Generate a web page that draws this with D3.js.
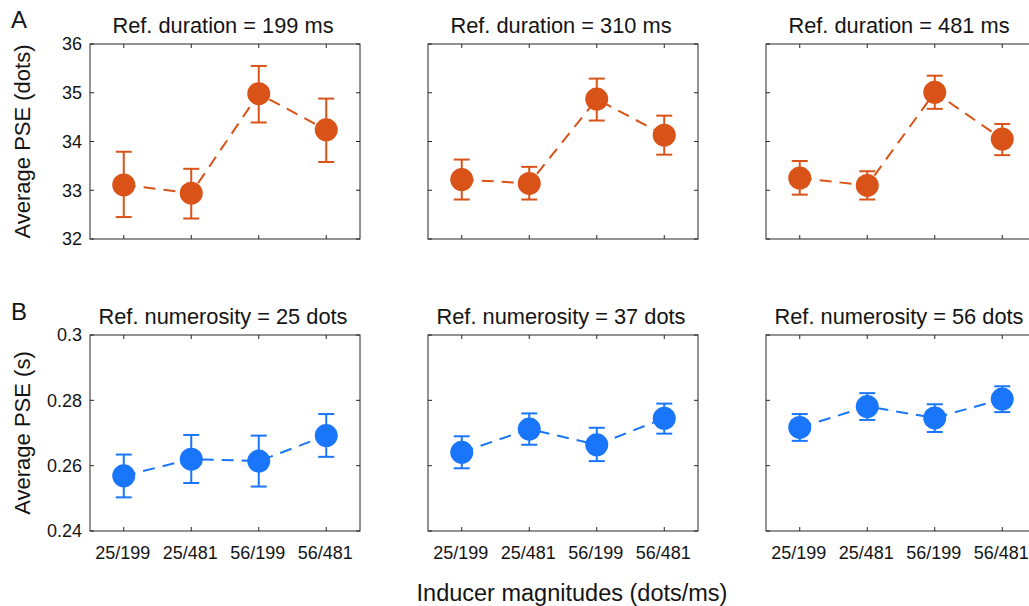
<!DOCTYPE html>
<html>
<head>
<meta charset="utf-8">
<script src="https://cdn.jsdelivr.net/npm/d3@7/dist/d3.min.js"></script>
<style>
  html, body { margin: 0; padding: 0; background: #fff; }
  svg { display: block; }
  text { font-family: "Liberation Sans", Arial, sans-serif; fill: #141414; }
</style>
</head>
<body>
<svg id="chart" width="1029" height="606"></svg>
<script>
// ---------- data ----------
const categories = ["25/199", "25/481", "56/199", "56/481"];

const durTitles = ["Ref. duration = 199 ms", "Ref. duration = 310 ms", "Ref. duration = 481 ms"];
const durMean = [
  [33.11, 32.94, 34.98, 34.24],
  [33.22, 33.14, 34.87, 34.13],
  [33.25, 33.10, 35.01, 34.05]
];
const durLow = [
  [32.45, 32.42, 34.39, 33.58],
  [32.81, 32.81, 34.43, 33.73],
  [32.91, 32.81, 34.67, 33.72]
];
const durHigh = [
  [33.79, 33.44, 35.55, 34.88],
  [33.63, 33.48, 35.29, 34.53],
  [33.60, 33.39, 35.35, 34.36]
];
const durTicks = [32, 33, 34, 35, 36];

const numTitles = ["Ref. numerosity = 25 dots", "Ref. numerosity = 37 dots", "Ref. numerosity = 56 dots"];
const numMean = [
  [0.2569, 0.2620, 0.2614, 0.2692],
  [0.2641, 0.2712, 0.2664, 0.2745],
  [0.2717, 0.2781, 0.2746, 0.2804]
];
const numLow = [
  [0.2503, 0.2547, 0.2536, 0.2627],
  [0.2592, 0.2664, 0.2614, 0.2698],
  [0.2676, 0.2740, 0.2703, 0.2764]
];
const numHigh = [
  [0.2634, 0.2694, 0.2692, 0.2758],
  [0.2690, 0.2760, 0.2716, 0.2790],
  [0.2758, 0.2822, 0.2788, 0.2843]
];
const numTicks = [0.24, 0.26, 0.28, 0.3];

const colorDur = "#D95319";
const colorNum = "#1976FA";

// ---------- layout ----------
const svg = d3.select("#chart");
const panelLefts = [90, 428, 766];
const panelW = 270;
const rows = [
  { top: 44, bottom: 239, domain: [32, 36], ticks: durTicks, fmt: d3.format("d"),
    titles: durTitles, mean: durMean, low: durLow, high: durHigh, color: colorDur,
    ylabel: "Average PSE (dots)", letter: "A", letterY: 28, titleY: 33, showX: false },
  { top: 335, bottom: 531, domain: [0.24, 0.3], ticks: numTicks, fmt: d => String(+d.toFixed(2)),
    titles: numTitles, mean: numMean, low: numLow, high: numHigh, color: colorNum,
    ylabel: "Average PSE (s)", letter: "B", letterY: 320, titleY: 324, showX: true }
];

const axisColor = "#262626";

rows.forEach(row => {
  const y = d3.scaleLinear().domain(row.domain).range([row.bottom, row.top]);
  panelLefts.forEach((left, pi) => {
    const x = d3.scaleLinear().domain([0.5, 4.5]).range([left, left + panelW]);
    const g = svg.append("g");

    // box
    g.append("rect")
      .attr("x", left).attr("y", row.top)
      .attr("width", panelW).attr("height", row.bottom - row.top)
      .attr("fill", "none").attr("stroke", axisColor).attr("stroke-width", 1);

    const tickLen = 4;
    // x ticks (bottom & top, inward)
    categories.forEach((c, i) => {
      const xx = x(i + 1);
      g.append("line").attr("x1", xx).attr("x2", xx).attr("y1", row.bottom).attr("y2", row.bottom - tickLen)
        .attr("stroke", axisColor);
      g.append("line").attr("x1", xx).attr("x2", xx).attr("y1", row.top).attr("y2", row.top + tickLen)
        .attr("stroke", axisColor);
      if (row.showX) {
        g.append("text").attr("x", xx - 1).attr("y", row.bottom + 28)
          .attr("text-anchor", "middle").attr("font-size", 18).text(c);
      }
    });
    // y ticks (left & right, inward)
    row.ticks.forEach(t => {
      const yy = y(t);
      g.append("line").attr("x1", left).attr("x2", left + tickLen).attr("y1", yy).attr("y2", yy)
        .attr("stroke", axisColor);
      g.append("line").attr("x1", left + panelW).attr("x2", left + panelW - tickLen).attr("y1", yy).attr("y2", yy)
        .attr("stroke", axisColor);
      if (pi === 0) {
        g.append("text").attr("x", left - 8).attr("y", yy).attr("dy", "0.36em")
          .attr("text-anchor", "end").attr("font-size", 18).text(row.fmt(t));
      }
    });

    // title
    g.append("text").attr("x", left + panelW / 2 - 2).attr("y", row.titleY)
      .attr("text-anchor", "middle").attr("font-size", 21.8).text(row.titles[pi]);

    // dashed connecting line
    const line = d3.line().x((d, i) => x(i + 1)).y(d => y(d));
    g.append("path").datum(row.mean[pi])
      .attr("d", line).attr("fill", "none")
      .attr("stroke", row.color).attr("stroke-width", 2)
      .attr("stroke-dasharray", "12,8");

    // error bars
    const capW = 8;
    row.mean[pi].forEach((m, i) => {
      const xx = x(i + 1);
      const lo = y(row.low[pi][i]), hi = y(row.high[pi][i]);
      g.append("line").attr("x1", xx).attr("x2", xx).attr("y1", lo).attr("y2", hi)
        .attr("stroke", row.color).attr("stroke-width", 2);
      g.append("line").attr("x1", xx - capW).attr("x2", xx + capW).attr("y1", lo).attr("y2", lo)
        .attr("stroke", row.color).attr("stroke-width", 2);
      g.append("line").attr("x1", xx - capW).attr("x2", xx + capW).attr("y1", hi).attr("y2", hi)
        .attr("stroke", row.color).attr("stroke-width", 2);
    });
    // markers
    g.selectAll("circle.m").data(row.mean[pi]).enter().append("circle")
      .attr("cx", (d, i) => x(i + 1)).attr("cy", d => y(d)).attr("r", 11.5)
      .attr("fill", row.color);
  });

  // y label
  const cy = (row.top + row.bottom) / 2;
  svg.append("text").attr("transform", `translate(30,${cy}) rotate(-90)`)
    .attr("text-anchor", "middle").attr("font-size", 22).text(row.ylabel);

  // panel letter
  svg.append("text").attr("x", 11).attr("y", row.letterY)
    .attr("font-size", 24).text(row.letter);
});

// x label
svg.append("text").attr("x", 572).attr("y", 601)
  .attr("text-anchor", "middle").attr("font-size", 23.5).text("Inducer magnitudes (dots/ms)");
</script>
</body>
</html>
